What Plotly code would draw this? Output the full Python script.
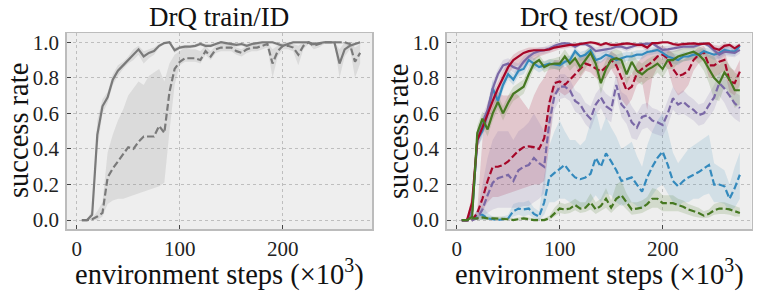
import plotly.graph_objects as go

# environment steps (x10^3)
steps = list(range(5, 280, 5))

# ---------------- DrQ train/ID ----------------
id_solid = [0, 0, 0.03, 0.48, 0.64, 0.69, 0.79, 0.84, 0.87, 0.9, 0.93,
            0.96, 0.92, 0.94, 0.95, 0.98, 0.995, 1.0, 0.955, 0.97, 0.975, 0.975,
            0.98, 0.99, 0.98, 0.98, 0.99, 1.0, 0.995, 0.99, 0.985, 0.99, 0.98,
            0.99, 0.995, 1.0, 1.0, 1.0, 0.99, 0.98, 0.99, 1.0, 1.0, 1.0,
            1.0, 0.99, 0.995, 1.0, 1.0, 1.0, 0.88, 0.96, 0.98, 0.99, 1.0]
id_solid_lo = [0, 0, 0.0, 0.4, 0.6, 0.66, 0.76, 0.81, 0.85, 0.88, 0.9,
               0.93, 0.88, 0.91, 0.93, 0.97, 0.99, 0.99, 0.94, 0.96, 0.965, 0.965,
               0.97, 0.98, 0.97, 0.97, 0.98, 0.99, 0.985, 0.98, 0.975, 0.98, 0.97,
               0.98, 0.985, 0.99, 0.99, 0.99, 0.98, 0.97, 0.98, 0.99, 0.99, 0.99,
               0.99, 0.98, 0.985, 0.99, 0.99, 0.99, 0.8, 0.92, 0.96, 0.98, 0.99]
id_solid_hi = [0, 0, 0.06, 0.56, 0.68, 0.72, 0.82, 0.87, 0.89, 0.92, 0.96,
               0.98, 0.95, 0.96, 0.97, 0.99, 1.0, 1.0, 0.97, 0.98, 0.985, 0.985,
               0.99, 1.0, 0.99, 0.99, 1.0, 1.0, 1.0, 1.0, 0.995, 1.0, 0.99,
               1.0, 1.0, 1.0, 1.0, 1.0, 1.0, 0.99, 1.0, 1.0, 1.0, 1.0,
               1.0, 1.0, 1.0, 1.0, 1.0, 1.0, 0.96, 1.0, 1.0, 1.0, 1.0]

id_dash = [0, 0, 0.005, 0.02, 0.04, 0.24, 0.29, 0.33, 0.37, 0.41, 0.40,
           0.44, 0.47, 0.47, 0.47, 0.53, 0.49, 0.72, 0.85, 0.89, 0.91, 0.91,
           0.91, 0.90, 0.95, 0.92, 0.96, 0.97, 0.97, 0.97, 0.95, 0.94, 0.96,
           0.97, 0.97, 0.98, 0.99, 0.88, 0.95, 0.98, 0.98, 0.97, 0.93, 0.98,
           1.0, 0.98, 0.99, 1.0, 1.0, 1.0, 1.0, 1.0, 0.99, 0.89, 0.94]
id_dash_lo = [0, 0, 0, 0, 0.02, 0.09, 0.11, 0.12, 0.12, 0.13, 0.14,
              0.15, 0.16, 0.17, 0.18, 0.19, 0.21, 0.5, 0.76, 0.87, 0.89, 0.89,
              0.89, 0.88, 0.93, 0.9, 0.94, 0.95, 0.95, 0.95, 0.93, 0.92, 0.94,
              0.95, 0.95, 0.96, 0.97, 0.8, 0.92, 0.96, 0.96, 0.95, 0.87, 0.96,
              0.99, 0.96, 0.97, 0.99, 0.99, 0.99, 0.99, 0.99, 0.97, 0.8, 0.88]
id_dash_hi = [0, 0, 0.01, 0.05, 0.1, 0.38, 0.48, 0.56, 0.62, 0.7, 0.74,
              0.78, 0.76, 0.81, 0.83, 0.85, 0.78, 0.88, 0.93, 0.95, 0.97, 0.96,
              0.96, 0.95, 0.98, 0.95, 0.98, 0.99, 0.99, 0.99, 0.97, 0.96, 0.98,
              0.99, 0.99, 1.0, 1.0, 0.96, 0.98, 1.0, 1.0, 0.99, 0.98, 1.0,
              1.0, 1.0, 1.0, 1.0, 1.0, 1.0, 1.0, 1.0, 1.0, 0.97, 0.99]

# ---------------- DrQ test/OOD ----------------
red_solid = [0, 0, 0.1, 0.45, 0.52, 0.6, 0.67, 0.74, 0.8, 0.86, 0.9,
             0.92, 0.94, 0.95, 0.955, 0.955, 0.955, 0.96, 0.97, 0.975, 0.98, 0.985,
             0.985, 0.99, 0.995, 1.0, 0.995, 0.985, 0.995, 0.985, 0.985, 0.99, 0.994,
             0.99, 0.985, 0.985, 0.97, 0.995, 0.995, 1.0, 1.0, 0.99, 0.985, 0.99,
             0.994, 0.994, 0.99, 0.994, 0.994, 0.966, 0.957, 0.98, 0.985, 0.966, 0.985]
red_solid_lo = [0, 0, 0.05, 0.4, 0.48, 0.56, 0.63, 0.7, 0.76, 0.82, 0.86,
                0.87, 0.88, 0.89, 0.9, 0.92, 0.93, 0.94, 0.95, 0.96, 0.965, 0.97,
                0.97, 0.98, 0.985, 0.99, 0.985, 0.97, 0.985, 0.97, 0.97, 0.98, 0.985,
                0.98, 0.97, 0.97, 0.95, 0.985, 0.985, 0.99, 0.99, 0.98, 0.97, 0.98,
                0.985, 0.985, 0.98, 0.985, 0.985, 0.94, 0.93, 0.96, 0.97, 0.94, 0.97]
red_solid_hi = [0, 0, 0.16, 0.5, 0.56, 0.64, 0.71, 0.78, 0.84, 0.89, 0.93,
                0.95, 0.96, 0.97, 0.97, 0.97, 0.97, 0.975, 0.98, 0.985, 0.99, 0.995,
                0.995, 1.0, 1.0, 1.0, 1.0, 0.995, 1.0, 0.995, 0.995, 1.0, 1.0,
                1.0, 0.995, 0.995, 0.99, 1.0, 1.0, 1.0, 1.0, 1.0, 0.995, 1.0,
                1.0, 1.0, 1.0, 1.0, 1.0, 0.985, 0.98, 0.995, 0.995, 0.985, 0.995]

red_dash = [0, 0, 0, 0.04, 0.12, 0.22, 0.3, 0.3, 0.31, 0.33, 0.36,
            0.39, 0.41, 0.415, 0.41, 0.4, 0.46, 0.66, 0.77, 0.78, 0.76, 0.79,
            0.82, 0.85, 0.88, 0.87, 0.85, 0.835, 0.86, 0.9, 0.87, 0.8, 0.73,
            0.75, 0.825, 0.85, 0.87, 0.89, 0.92, 0.93, 0.91, 0.85, 0.81, 0.82,
            0.84, 0.9, 0.93, 0.945, 0.87, 0.87, 0.89, 0.9, 0.78, 0.77, 0.835]
red_dash_lo = [0, 0, 0, 0.0, 0.05, 0.1, 0.13, 0.13, 0.14, 0.15, 0.16,
               0.17, 0.18, 0.19, 0.2, 0.2, 0.22, 0.42, 0.7, 0.72, 0.7, 0.72,
               0.76, 0.8, 0.84, 0.83, 0.8, 0.78, 0.8, 0.85, 0.8, 0.68, 0.64,
               0.68, 0.76, 0.78, 0.62, 0.8, 0.86, 0.88, 0.85, 0.75, 0.7, 0.72,
               0.76, 0.84, 0.88, 0.9, 0.8, 0.8, 0.82, 0.84, 0.72, 0.7, 0.76]
red_dash_hi = [0, 0, 0.01, 0.06, 0.45, 0.66, 0.72, 0.72, 0.7, 0.7, 0.72,
               0.7, 0.66, 0.62, 0.7, 0.76, 0.8, 0.86, 0.9, 0.9, 0.86, 0.88,
               0.9, 0.92, 0.93, 0.92, 0.9, 0.89, 0.92, 0.95, 0.93, 0.88, 0.8,
               0.82, 0.88, 0.92, 0.94, 0.96, 0.97, 0.98, 0.96, 0.94, 0.9, 0.9,
               0.92, 0.95, 0.97, 0.98, 0.93, 0.94, 0.95, 0.95, 0.86, 0.84, 0.9]

purple_solid = [0, 0, 0.05, 0.45, 0.55, 0.62, 0.74, 0.82, 0.87, 0.88, 0.86,
                0.85, 0.89, 0.92, 0.94, 0.95, 0.955, 0.965, 0.98, 0.99, 0.995, 0.99,
                0.975, 0.99, 0.99, 0.975, 0.95, 0.957, 0.96, 0.965, 0.975, 0.975, 0.966,
                0.975, 0.985, 0.99, 0.994, 0.994, 0.975, 0.957, 0.96, 0.966, 0.97, 0.975,
                0.975, 0.975, 0.985, 0.994, 0.98, 0.957, 0.93, 0.947, 0.945, 0.94, 0.957]
purple_solid_sd = [0, 0, 0.03, 0.04, 0.04, 0.04, 0.04, 0.03, 0.03, 0.03, 0.03,
                   0.03, 0.03, 0.02, 0.02, 0.02, 0.02, 0.02, 0.015, 0.01, 0.01, 0.01,
                   0.015, 0.01, 0.01, 0.015, 0.02, 0.02, 0.02, 0.02, 0.015, 0.015, 0.02,
                   0.015, 0.01, 0.01, 0.01, 0.01, 0.015, 0.02, 0.02, 0.02, 0.02, 0.015,
                   0.015, 0.015, 0.01, 0.01, 0.015, 0.02, 0.03, 0.025, 0.025, 0.025, 0.02]

purple_dash = [0, 0, 0, 0.01, 0.06, 0.14, 0.21, 0.235, 0.245, 0.255, 0.22,
               0.28, 0.3, 0.31, 0.35, 0.32, 0.3, 0.55, 0.7, 0.75, 0.75, 0.73,
               0.67, 0.65, 0.6, 0.57, 0.65, 0.69, 0.64, 0.62, 0.76, 0.65, 0.62,
               0.55, 0.52, 0.58, 0.59, 0.56, 0.55, 0.535, 0.6, 0.685, 0.65, 0.665,
               0.64, 0.62, 0.59, 0.6, 0.647, 0.69, 0.77, 0.74, 0.7, 0.657, 0.63]
purple_dash_lo = [0, 0, 0, 0, 0.02, 0.04, 0.06, 0.07, 0.07, 0.07, 0.07,
                  0.07, 0.08, 0.08, 0.1, 0.12, 0.15, 0.45, 0.62, 0.68, 0.69, 0.67,
                  0.61, 0.59, 0.54, 0.51, 0.59, 0.63, 0.57, 0.55, 0.7, 0.58, 0.54,
                  0.46, 0.45, 0.51, 0.52, 0.49, 0.48, 0.47, 0.53, 0.62, 0.59, 0.6,
                  0.58, 0.56, 0.53, 0.54, 0.58, 0.62, 0.7, 0.66, 0.6, 0.57, 0.55]
purple_dash_hi = [0, 0, 0.01, 0.05, 0.2, 0.35, 0.45, 0.5, 0.5, 0.5, 0.45,
                  0.5, 0.52, 0.55, 0.6, 0.55, 0.5, 0.7, 0.78, 0.82, 0.82, 0.79,
                  0.73, 0.71, 0.66, 0.64, 0.71, 0.75, 0.71, 0.69, 0.82, 0.72, 0.7,
                  0.64, 0.6, 0.65, 0.66, 0.63, 0.62, 0.6, 0.67, 0.75, 0.71, 0.73,
                  0.7, 0.68, 0.65, 0.66, 0.71, 0.76, 0.83, 0.8, 0.77, 0.72, 0.7]

blue_solid = [0, 0, 0.05, 0.45, 0.5, 0.6, 0.74, 0.67, 0.76, 0.82, 0.79,
              0.84, 0.85, 0.9, 0.88, 0.86, 0.87, 0.88, 0.875, 0.87, 0.89, 0.9,
              0.95, 0.92, 0.93, 0.955, 0.9, 0.91, 0.93, 0.92, 0.9, 0.91, 0.92,
              0.92, 0.93, 0.93, 0.945, 0.95, 0.957, 0.94, 0.92, 0.91, 0.9, 0.92,
              0.92, 0.93, 0.93, 0.95, 0.94, 0.93, 0.94, 0.957, 0.95, 0.947, 0.98]
blue_solid_sd = [0, 0, 0.03, 0.04, 0.04, 0.04, 0.05, 0.04, 0.03, 0.03, 0.03,
                 0.03, 0.03, 0.03, 0.03, 0.03, 0.025, 0.025, 0.025, 0.025, 0.025, 0.025,
                 0.02, 0.025, 0.025, 0.02, 0.025, 0.025, 0.025, 0.025, 0.03, 0.03, 0.025,
                 0.025, 0.025, 0.025, 0.02, 0.02, 0.02, 0.025, 0.03, 0.03, 0.03, 0.025,
                 0.025, 0.025, 0.025, 0.02, 0.025, 0.03, 0.03, 0.025, 0.025, 0.025, 0.015]

blue_dash = [0, 0, 0, 0.03, 0.03, 0.01, 0.005, 0, 0.005, 0.01, 0.05,
             0.065, 0.06, 0.065, 0.035, 0.02, 0.1, 0.24, 0.265, 0.29, 0.31, 0.27,
             0.24, 0.23, 0.24, 0.26, 0.35, 0.3, 0.375, 0.33, 0.28, 0.22, 0.23,
             0.24, 0.2, 0.16, 0.24, 0.3, 0.35, 0.385, 0.31, 0.22, 0.19, 0.22,
             0.24, 0.255, 0.27, 0.29, 0.31, 0.2, 0.2, 0.19, 0.12, 0.18, 0.255]
blue_dash_lo = [0, 0, 0, 0, 0, 0, 0, 0, 0, 0, 0.02,
                0.03, 0.02, 0.03, 0.01, 0, 0.03, 0.1, 0.1, 0.12, 0.12, 0.1,
                0.08, 0.07, 0.08, 0.1, 0.14, 0.1, 0.15, 0.14, 0.1, 0.08, 0.09,
                0.1, 0.08, 0.06, 0.1, 0.14, 0.18, 0.2, 0.15, 0.1, 0.08, 0.1,
                0.1, 0.12, 0.12, 0.14, 0.15, 0.1, 0.1, 0.09, 0.05, 0.07, 0.12]
blue_dash_hi = [0, 0, 0.01, 0.06, 0.08, 0.04, 0.02, 0.01, 0.02, 0.03, 0.09,
                0.1, 0.1, 0.11, 0.07, 0.05, 0.25, 0.42, 0.5, 0.56, 0.5, 0.45,
                0.45, 0.42, 0.45, 0.55, 0.62, 0.5, 0.58, 0.52, 0.47, 0.4, 0.42,
                0.44, 0.36, 0.3, 0.42, 0.5, 0.56, 0.6, 0.5, 0.38, 0.32, 0.36,
                0.4, 0.42, 0.44, 0.46, 0.48, 0.32, 0.3, 0.28, 0.2, 0.3, 0.38]

green_solid = [0, 0, 0.02, 0.49, 0.57, 0.51, 0.6, 0.665, 0.6, 0.66, 0.71,
               0.73, 0.75, 0.82, 0.88, 0.9, 0.86, 0.875, 0.88, 0.88, 0.92, 0.88,
               0.91, 0.86, 0.9, 0.94, 0.88, 0.77, 0.85, 0.9, 0.91, 0.9, 0.82,
               0.89, 0.84, 0.82, 0.845, 0.86, 0.88, 0.85, 0.9, 0.9, 0.92, 0.93,
               0.94, 0.947, 0.93, 0.9, 0.85, 0.8, 0.77, 0.83, 0.79, 0.73, 0.73]
green_solid_sd = [0, 0, 0.02, 0.04, 0.04, 0.04, 0.04, 0.04, 0.04, 0.04, 0.04,
                  0.04, 0.04, 0.04, 0.03, 0.03, 0.03, 0.03, 0.03, 0.04, 0.04, 0.04,
                  0.04, 0.05, 0.05, 0.04, 0.05, 0.06, 0.05, 0.05, 0.05, 0.05, 0.06,
                  0.06, 0.06, 0.06, 0.06, 0.06, 0.05, 0.05, 0.05, 0.05, 0.04, 0.04,
                  0.04, 0.04, 0.05, 0.06, 0.08, 0.12, 0.1, 0.08, 0.08, 0.1, 0.08]

green_dash = [0, 0, 0.01, 0.01, 0.015, 0.01, 0.01, 0.008, 0.01, 0.005, 0,
              0.005, 0.01, 0.005, 0, 0, 0, 0.01, 0.04, 0.065, 0.06, 0.065,
              0.085, 0.065, 0.07, 0.1, 0.06, 0.08, 0.12, 0.07, 0.12, 0.14, 0.1,
              0.06, 0.065, 0.07, 0.09, 0.12, 0.12, 0.095, 0.095, 0.095, 0.085, 0.075,
              0.06, 0.05, 0.04, 0.025, 0.035, 0.055, 0.065, 0.065, 0.06, 0.05, 0.04]
green_dash_lo = [0, 0, 0, 0, 0, 0, 0, 0, 0, 0, 0,
                 0, 0, 0, 0, 0, 0, 0, 0.02, 0.04, 0.035, 0.04,
                 0.055, 0.04, 0.045, 0.06, 0.035, 0.05, 0.07, 0.04, 0.07, 0.09, 0.06,
                 0.03, 0.035, 0.04, 0.055, 0.07, 0.07, 0.05, 0.05, 0.05, 0.05, 0.04,
                 0.03, 0.02, 0.015, 0.01, 0.015, 0.03, 0.035, 0.035, 0.03, 0.02, 0.02]
green_dash_hi = [0, 0, 0.02, 0.025, 0.03, 0.02, 0.02, 0.02, 0.02, 0.015, 0.01,
                 0.015, 0.02, 0.015, 0.01, 0.01, 0.01, 0.025, 0.07, 0.1, 0.09, 0.1,
                 0.12, 0.1, 0.1, 0.15, 0.1, 0.12, 0.18, 0.11, 0.2, 0.22, 0.15,
                 0.1, 0.1, 0.11, 0.13, 0.18, 0.17, 0.14, 0.14, 0.14, 0.12, 0.11,
                 0.09, 0.08, 0.07, 0.05, 0.06, 0.09, 0.1, 0.1, 0.09, 0.08, 0.07]

ytick_vals = [0.0, 0.2, 0.4, 0.6, 0.8, 1.0]
ytick_text = ["0.0", "0.2", "0.4", "0.6", "0.8", "1.0"]
xtick_vals = [0, 100, 200]
xtick_text = ["0", "100", "200"]

GRAY = "#7a7a7a"
RED = "#A60628"
BLUE = "#348ABD"
PURPLE = "#7A68A6"
GREEN = "#467821"


def rgba(hex_color, a):
    h = hex_color.lstrip("#")
    r, g, b = int(h[0:2], 16), int(h[2:4], 16), int(h[4:6], 16)
    return f"rgba({r},{g},{b},{a})"


fig = go.Figure()


def band(lo, hi, color, xa, ya, alpha=0.2):
    fig.add_trace(go.Scatter(
        x=steps + steps[::-1], y=list(hi) + list(lo)[::-1],
        fill="toself", fillcolor=rgba(color, alpha), line=dict(width=0),
        mode="lines", hoverinfo="skip", showlegend=False, xaxis=xa, yaxis=ya))


def line(y, color, dashed, xa, ya):
    fig.add_trace(go.Scatter(
        x=steps, y=y, mode="lines",
        line=dict(color=color, width=2.2, dash="7px,3px" if dashed else "solid"),
        showlegend=False, xaxis=xa, yaxis=ya))


def sd_band(m, sd):
    lo = [max(0.0, a - b) for a, b in zip(m, sd)]
    hi = [min(1.0, a + b) for a, b in zip(m, sd)]
    return lo, hi


# left panel
band(id_dash_lo, id_dash_hi, GRAY, "x", "y", 0.17)
band(id_solid_lo, id_solid_hi, GRAY, "x", "y", 0.17)
line(id_dash, GRAY, True, "x", "y")
line(id_solid, GRAY, False, "x", "y")

# right panel
band(blue_dash_lo, blue_dash_hi, BLUE, "x2", "y2", 0.15)
band(red_dash_lo, red_dash_hi, RED, "x2", "y2", 0.17)
band(purple_dash_lo, purple_dash_hi, PURPLE, "x2", "y2", 0.17)
band(green_dash_lo, green_dash_hi, GREEN, "x2", "y2", 0.17)
band(red_solid_lo, red_solid_hi, RED, "x2", "y2", 0.17)
for m, sd, c in [(blue_solid, blue_solid_sd, BLUE),
                 (purple_solid, purple_solid_sd, PURPLE),
                 (green_solid, green_solid_sd, GREEN)]:
    lo, hi = sd_band(m, sd)
    band(lo, hi, c, "x2", "y2", 0.17)

line(blue_dash, BLUE, True, "x2", "y2")
line(red_dash, RED, True, "x2", "y2")
line(purple_dash, PURPLE, True, "x2", "y2")
line(green_dash, GREEN, True, "x2", "y2")
line(blue_solid, BLUE, False, "x2", "y2")
line(purple_solid, PURPLE, False, "x2", "y2")
line(red_solid, RED, False, "x2", "y2")
line(green_solid, GREEN, False, "x2", "y2")

FONT = "Liberation Serif"
W, H = 761, 294
top_px, bot_px = 33, 229
ydom = [(H - bot_px) / H, (H - top_px) / H]

axis_common = dict(
    automargin=False,
    showgrid=True, gridcolor="#b2b2b2", griddash="dot", gridwidth=0.8,
    zeroline=False, showline=True, mirror=True, linecolor="#bcbcbc", linewidth=1.5,
    ticks="inside", ticklen=4, tickwidth=1, tickcolor="#444444",
    tickfont=dict(family=FONT, size=21, color="#222222"),
)

fig.update_layout(
    width=W, height=H,
    margin=dict(l=0, r=0, t=0, b=0, autoexpand=False),
    paper_bgcolor="white", plot_bgcolor="#eeeeee",
    font=dict(family=FONT),
    xaxis=dict(domain=[66.7 / W, 372 / W], range=[-9.7, 286.5], anchor="y",
               tickvals=xtick_vals, ticktext=xtick_text, **axis_common),
    yaxis=dict(domain=ydom, range=[-0.05, 1.052], anchor="x",
               tickvals=ytick_vals, ticktext=ytick_text, ticklabelstandoff=2, **axis_common),
    xaxis2=dict(domain=[446.7 / W, 751.7 / W], range=[-9.7, 286.5], anchor="y2",
                tickvals=xtick_vals, ticktext=xtick_text, **axis_common),
    yaxis2=dict(domain=ydom, range=[-0.05, 1.052], anchor="x2",
                tickvals=ytick_vals, ticktext=ytick_text, ticklabelstandoff=2, **axis_common),
)

ann_font_t = dict(family=FONT, size=27, color="#111111")
ann_font_l = dict(family=FONT, size=28.5, color="#111111")
annotations = [
    dict(text="DrQ train/ID", x=219 / W, y=1 - 17 / H, font=ann_font_t),
    dict(text="DrQ test/OOD", x=599 / W, y=1 - 17 / H, font=ann_font_t),
    dict(text="environment steps (×10<sup>3</sup>)", x=219 / W, y=1 - 272 / H, font=ann_font_l),
    dict(text="environment steps (×10<sup>3</sup>)", x=599 / W, y=1 - 272 / H, font=ann_font_l),
    dict(text="success rate", x=19 / W, y=1 - 131 / H, textangle=-90, font=ann_font_l),
    dict(text="success rate", x=399 / W, y=1 - 131 / H, textangle=-90, font=ann_font_l),
]
for a in annotations:
    a.update(xref="paper", yref="paper", xanchor="center", yanchor="middle", showarrow=False)
fig.update_layout(annotations=annotations)

fig.write_html(
    "out.html",
    config={"displayModeBar": False, "staticPlot": True},
    post_script="document.body.style.margin='0px';document.body.style.overflow='hidden';",
)
